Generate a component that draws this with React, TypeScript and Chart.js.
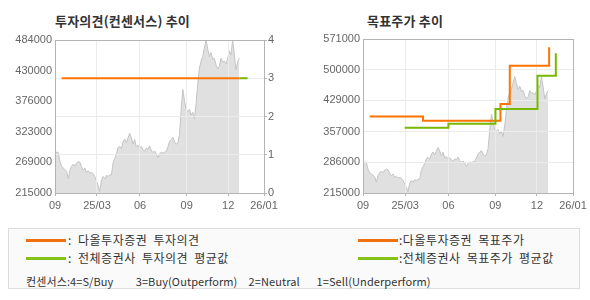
import React, { useEffect, useRef } from "react";
import { Chart, registerables } from "chart.js";

Chart.register(...registerables);

// ---- data ----
const PRICE = [
  283000, 287000, 286000, 270000, 262000, 259000, 256000, 253000, 240000, 255000,
  262000, 266000, 262000, 268000, 270000, 269000, 261000, 255000, 259000, 251000,
  254000, 250000, 251000, 249000, 244000, 236000, 228000, 218000, 238000, 244000,
  240000, 246000, 244000, 247000, 247000, 268000, 276000, 283000, 295000, 297000,
  293000, 305000, 310000, 303000, 312000, 320000, 312000, 301000, 309000, 296000,
  299000, 294000, 297000, 291000, 288000, 294000, 292000, 298000, 290000, 286000,
  289000, 284000, 277000, 283000, 287000, 285000, 287000, 288000, 296000, 306000,
  309000, 313000, 305000, 301000, 303000, 318000, 362000, 397000, 378000, 362000,
  358000, 362000, 352000, 357000, 346000, 372000, 408000, 435000, 447000, 455000,
  470000, 484000, 468000, 455000, 462000, 450000, 452000, 440000, 433000, 438000,
  452000, 445000, 447000, 442000, 451000, 465000, 458000, 484000, 460000, 432000,
  445000, 452000,
];

const X_MAX = 125.9;
const X_TICK_POS = [0, 25.3, 51.2, 79.3, 104.3, 125.9];
const X_TICK_LABELS = ["09", "25/03", "06", "09", "12", "26/01"];

const LEFT_Y_TICKS = [215000, 269000, 323000, 376000, 430000, 484000];
const RIGHT_Y_TICKS = [215000, 286000, 357000, 429000, 500000, 571000];

const DAOL_RATING_X = [4, 111];
const DAOL_RATING = [3, 3];
const AVG_RATING_X = [111, 116];
const AVG_RATING = [3, 3];

const DAOL_TARGET_X = [4, 36, 82.4, 88, 111.6];
const DAOL_TARGET = [392000, 382000, 421000, 509000, 552000];
const AVG_TARGET_X = [25, 51.2, 79.4, 104.6, 115.6];
const AVG_TARGET = [366000, 375000, 409000, 486000, 538000];

// ---- styles ----
const ORANGE = "#FF7300";
const GREEN = "#78B800";
const GRID = "#EBEBEB";
const BORDER = "#B4B4B4";
const TICK_FONT = { family: "'Liberation Sans', Arial, sans-serif", size: 11 };
const TICK_COLOR = "#666666";
const KFONT = "'Noto Sans CJK KR', sans-serif";

const pts = (xs: number[], ys: number[]) => xs.map((x, i) => ({ x, y: ys[i] }));
const pricePts = () => PRICE.map((v, i) => ({ x: i, y: v }));

const align = (p: number) => Math.round(p - 0.5) + 0.5;

const frameAndGridPlugin = (gridIds: string[]) => ({
  id: "frameAndGrid",
  afterDatasetDraw(chart: any, args: any) {
    if (args.index !== 0) return;
    const ctx = chart.ctx;
    gridIds.forEach((id) => {
      const s = chart.scales[id];
      if (s && s.drawGrid) {
        ctx.save();
        s.drawGrid(chart.chartArea);
        ctx.restore();
      }
    });
  },
  afterDraw(chart: any) {
    const { left, top, right, bottom } = chart.chartArea;
    const ctx = chart.ctx;
    ctx.save();
    ctx.strokeStyle = BORDER;
    ctx.lineWidth = 1;
    const l = align(left), t = align(top), r = align(right), b = align(bottom);
    ctx.strokeRect(l, t, r - l, b - t);
    ctx.restore();
  },
});

const xScale = () => ({
  type: "linear",
  min: 0,
  max: X_MAX,
  grid: { color: GRID, drawTicks: true, tickLength: 3, tickColor: BORDER },
  border: { display: false },
  ticks: {
    font: TICK_FONT,
    color: TICK_COLOR,
    padding: 3,
    maxRotation: 0,
    autoSkip: false,
    callback: (v: number) => {
      const i = X_TICK_POS.indexOf(v);
      return i >= 0 ? X_TICK_LABELS[i] : "";
    },
  },
  afterBuildTicks: (s: any) => {
    s.ticks = X_TICK_POS.map((v) => ({ value: v }));
  },
  afterFit: (s: any) => {
    s.height = 27;
  },
});

const priceDataset = (yAxisID: string) => ({
  data: pricePts(),
  yAxisID,
  borderColor: "#C4C4C4",
  borderWidth: 1,
  backgroundColor: "#E0E0E0",
  fill: "start",
  pointRadius: 0,
  tension: 0,
  order: 10,
});

const stepLine = (data: any[], color: string, yAxisID: string) => ({
  data,
  yAxisID,
  borderColor: color,
  borderWidth: 2,
  backgroundColor: color,
  fill: false,
  pointRadius: 0,
  stepped: "before",
  order: 0,
});

export default function App() {
  const leftRef = useRef<HTMLCanvasElement>(null);
  const rightRef = useRef<HTMLCanvasElement>(null);

  useEffect(() => {
    const left = new Chart(leftRef.current as HTMLCanvasElement, {
      type: "line",
      data: {
        datasets: [
          priceDataset("y") as any,
          stepLine(pts(AVG_RATING_X, AVG_RATING), GREEN, "y1") as any,
          stepLine(pts(DAOL_RATING_X, DAOL_RATING), ORANGE, "y1") as any,
        ],
      },
      options: {
        responsive: false,
        animation: false,
        devicePixelRatio: 1,
        layout: { padding: { top: 40, left: 0, right: 0, bottom: 0 } },
        plugins: { legend: { display: false }, tooltip: { enabled: false } },
        scales: {
          x: xScale() as any,
          y: {
            type: "linear",
            position: "left",
            min: 215000,
            max: 484000,
            grid: { display: false, drawTicks: false },
            border: { display: false },
            ticks: { font: TICK_FONT, color: TICK_COLOR, padding: 3, callback: (v: any) => String(v) },
            afterBuildTicks: (s: any) => {
              s.ticks = LEFT_Y_TICKS.map((v) => ({ value: v }));
            },
            afterFit: (s: any) => {
              s.width = 55;
            },
          } as any,
          y1: {
            type: "linear",
            position: "right",
            min: 0,
            max: 4,
            grid: { color: GRID, drawTicks: true, tickLength: 3, tickColor: BORDER },
            border: { display: false },
            ticks: { font: TICK_FONT, color: TICK_COLOR, padding: 1, stepSize: 1 },
            afterFit: (s: any) => {
              s.width = 31;
            },
          } as any,
        },
      },
      plugins: [frameAndGridPlugin(["x", "y1"]) as any],
    });

    const right = new Chart(rightRef.current as HTMLCanvasElement, {
      type: "line",
      data: {
        datasets: [
          priceDataset("y") as any,
          stepLine(pts(AVG_TARGET_X, AVG_TARGET), GREEN, "y") as any,
          stepLine(pts(DAOL_TARGET_X, DAOL_TARGET), ORANGE, "y") as any,
        ],
      },
      options: {
        responsive: false,
        animation: false,
        devicePixelRatio: 1,
        layout: { padding: { top: 39, left: 0, right: 17, bottom: 0 } },
        plugins: { legend: { display: false }, tooltip: { enabled: false } },
        scales: {
          x: xScale() as any,
          y: {
            type: "linear",
            position: "left",
            min: 215000,
            max: 571000,
            grid: { color: GRID, drawTicks: false },
            border: { display: false },
            ticks: { font: TICK_FONT, color: TICK_COLOR, padding: 3, callback: (v: any) => String(v) },
            afterBuildTicks: (s: any) => {
              s.ticks = RIGHT_Y_TICKS.map((v) => ({ value: v }));
            },
            afterFit: (s: any) => {
              s.width = 58;
            },
          } as any,
        },
      },
      plugins: [frameAndGridPlugin(["x", "y"]) as any],
    });

    return () => {
      left.destroy();
      right.destroy();
    };
  }, []);

  const title: React.CSSProperties = {
    position: "absolute",
    top: 13,
    fontFamily: KFONT,
    fontWeight: "bold",
    fontSize: 13,
    lineHeight: "15px",
    letterSpacing: "0.2px",
    color: "#333",
    whiteSpace: "pre",
  };
  const legText: React.CSSProperties = {
    position: "absolute",
    fontFamily: KFONT,
    fontSize: 12,
    lineHeight: "14px",
    letterSpacing: "0.5px",
    wordSpacing: "3px",
    color: "#333",
    whiteSpace: "pre",
  };
  const legLine = (left: number, top: number, color: string): React.CSSProperties => ({
    position: "absolute",
    left,
    top,
    width: 40,
    height: 3,
    background: color,
  });

  return (
    <div
      style={{
        position: "absolute",
        left: 0,
        top: 0,
        width: 590,
        height: 300,
        background: "#fff",
        overflow: "hidden",
      }}
    >
      <div style={{ ...title, left: 55 }}>투자의견(컨센서스) 추이</div>
      <div style={{ ...title, left: 367 }}>목표주가 추이</div>
      <canvas
        ref={leftRef}
        width={295}
        height={220}
        style={{ position: "absolute", left: 0, top: 0, width: 295, height: 220 }}
      />
      <canvas
        ref={rightRef}
        width={285}
        height={220}
        style={{ position: "absolute", left: 305, top: 0, width: 285, height: 220 }}
      />
      <div
        style={{
          position: "absolute",
          left: 8,
          top: 228,
          width: 570,
          height: 59,
          border: "1px solid #DDDDDD",
          background: "#FAFAFA",
        }}
      />
      <div style={legLine(26, 239, "#F07010")} />
      <div style={{ ...legText, left: 68, top: 233 }}>: 다올투자증권 투자의견</div>
      <div style={legLine(26, 257, "#84C21A")} />
      <div style={{ ...legText, left: 68, top: 251 }}>: 전체증권사 투자의견 평균값</div>
      <div style={legLine(358, 239, "#F07010")} />
      <div style={{ ...legText, left: 399, top: 233 }}>:다올투자증권 목표주가</div>
      <div style={legLine(358, 257, "#84C21A")} />
      <div style={{ ...legText, left: 399, top: 251 }}>:전체증권사 목표주가 평균값</div>
      <div style={{ ...legText, left: 26, top: 274, fontSize: 11, letterSpacing: "0.1px", wordSpacing: "3px" }}>
        {"컨센서스:4=S/Buy    3=Buy(Outperform)  2=Neutral   1=Sell(Underperform)"}
      </div>
    </div>
  );
}
